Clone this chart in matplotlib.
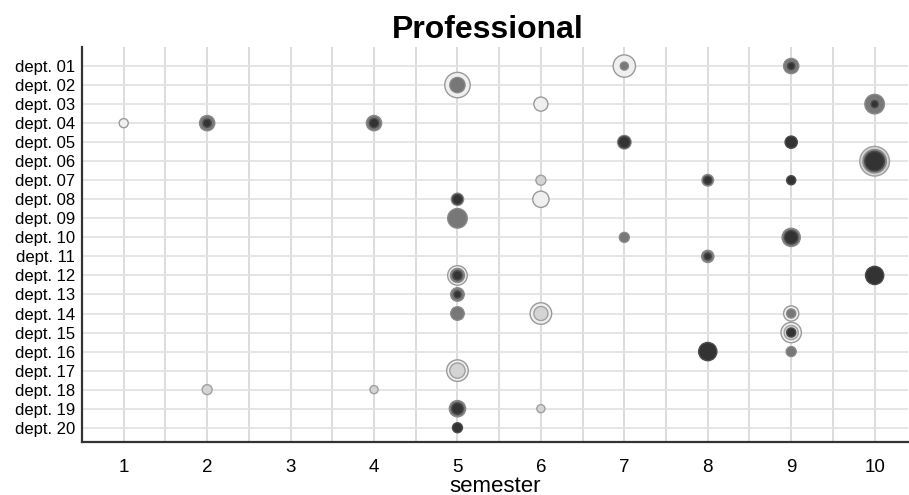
import numpy as np
import matplotlib
matplotlib.use("Agg")
import matplotlib.pyplot as plt

plt.rcParams["font.family"] = ["Liberation Sans", "DejaVu Sans"]

DEPTS = [f"dept. {i:02d}" for i in range(1, 21)]
SEMESTERS = list(range(1, 11))

# four overlapping series: (dept number, semester, count)
pale_dept = [1, 2, 3, 4, 8, 12, 14, 14, 15, 17]
pale_sem  = [7, 5, 6, 1, 6, 5, 6, 9, 9, 5]
pale_n    = [30, 39, 12, 5, 16, 23, 28, 14, 25, 28]

light_dept = [6, 7, 14, 15, 17, 18, 18, 19]
light_sem  = [10, 6, 6, 9, 5, 2, 4, 6]
light_n    = [53, 6, 12, 12, 14, 6, 4, 4]

mid_dept = [1, 1, 2, 3, 4, 4, 5, 6, 7, 8, 9, 10, 10, 11, 12, 13, 14, 14, 16, 19]
mid_sem  = [7, 9, 5, 10, 2, 4, 7, 10, 8, 5, 5, 7, 9, 8, 5, 5, 5, 9, 9, 5]
mid_n    = [4, 14, 14, 23, 14, 14, 11, 33, 8, 9, 23, 6, 20, 9, 12, 11, 11, 5, 6, 16]

dark_dept = [1, 3, 4, 4, 5, 5, 6, 7, 7, 8, 10, 11, 12, 12, 13, 15, 16, 19, 20]
dark_sem  = [9, 10, 2, 4, 7, 9, 10, 8, 9, 5, 9, 8, 5, 10, 5, 9, 8, 5, 5]
dark_n    = [3, 3, 4, 5, 8, 9, 23, 4, 5, 6, 11, 3, 5, 20, 3, 5, 20, 8, 6]

SIZE_PER_COUNT = 8.6

SERIES = [
    (pale_dept, pale_sem, pale_n, "#efefef", "#9a9a9a"),
    (light_dept, light_sem, light_n, "#d4d4d4", "#a0a0a0"),
    (mid_dept, mid_sem, mid_n, "#777777", "#888888"),
    (dark_dept, dark_sem, dark_n, "#333333", "#4a4a4a"),
]

fig = plt.figure(figsize=(9.09, 4.95), dpi=100)
ax = fig.add_axes([82 / 909, 1 - 442 / 495, 826 / 909, 395 / 495])

for d, s, n, fc, ec in SERIES:
    ax.scatter(s, np.array(d) - 1, s=np.array(n) * SIZE_PER_COUNT,
               facecolor=fc, edgecolor=ec, linewidth=1.0, zorder=3)

ax.set_xlim(0.5, 10.4)
ax.set_ylim(19.75, -1.0)
ax.set_xticks(SEMESTERS)
ax.set_xticks(np.arange(1.5, 10.5, 1), minor=True)
ax.set_xticklabels([str(s) for s in SEMESTERS], fontsize=13.5)
ax.set_yticks(range(len(DEPTS)))
ax.set_yticklabels(DEPTS, fontsize=12)
ax.tick_params(axis="both", which="both", length=0)
ax.tick_params(axis="x", pad=12)
ax.tick_params(axis="y", pad=5)

ax.grid(True, which="both", axis="x", color="#d9d9d9", linewidth=1.3)
ax.grid(True, which="major", axis="y", color="#e3e3e3", linewidth=1.3)
ax.set_axisbelow(True)

for side in ["top", "right"]:
    ax.spines[side].set_visible(False)
for side in ["left", "bottom"]:
    ax.spines[side].set_color("#333333")
    ax.spines[side].set_linewidth(1.6)

ax.set_xlabel("semester", fontsize=16, labelpad=0)
fig.text(488 / 909, 1 - 30 / 495, "Professional", fontsize=23,
         fontweight="bold", ha="center", va="center")

fig.savefig("out.png", dpi=100)
